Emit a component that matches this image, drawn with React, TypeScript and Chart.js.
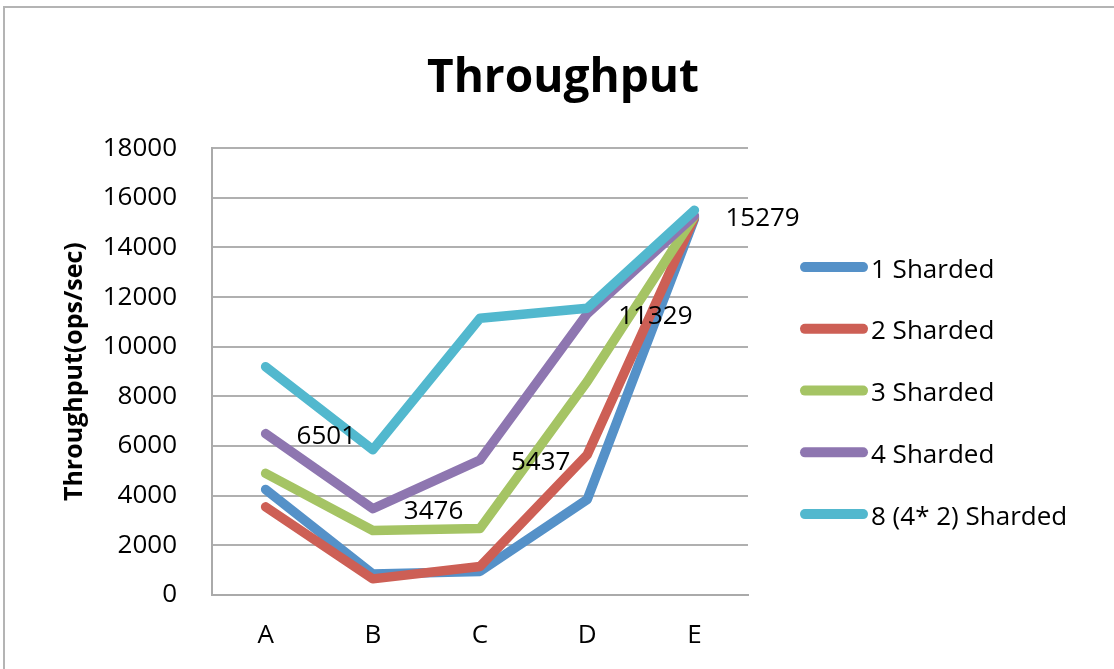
import React, { useEffect, useRef } from "react";
import { Chart, registerables } from "chart.js";

Chart.register(...registerables);

// ---- data ----
const categories = ["A", "B", "C", "D", "E"];
const seriesNames = ["1 Sharded", "2 Sharded", "3 Sharded", "4 Sharded", "8 (4* 2) Sharded"];
const sharded1 = [4250, 850, 950, 3850, 15150];
const sharded2 = [3550, 650, 1150, 5650, 15200];
const sharded3 = [4900, 2600, 2680, 8600, 15250];
const sharded4 = [6501, 3476, 5437, 11329, 15279];
const sharded8 = [9200, 5850, 11150, 11550, 15500];
const seriesValues = [sharded1, sharded2, sharded3, sharded4, sharded8];
const seriesColors = ["#5591C8", "#CD5F55", "#A5C464", "#8E76B0", "#52B8CE"];
const yMin = 0;
const yMax = 18000;
const yStep = 2000;
const labeledSeries = 3; // data labels shown for "4 Sharded"

const FONT = "'Open Sans', 'Noto Sans', sans-serif";

const framePlugin = {
  id: "frame",
  beforeDraw(chart: any) {
    const { ctx, width, height } = chart;
    ctx.save();
    ctx.fillStyle = "#ffffff";
    ctx.fillRect(0, 0, width, height);
    ctx.strokeStyle = "#b4b4b4";
    ctx.lineWidth = 2;
    ctx.beginPath();
    ctx.moveTo(4, height + 2);
    ctx.lineTo(4, 7);
    ctx.lineTo(width + 2, 7);
    ctx.stroke();
    ctx.restore();
  },
};

const dataLabelPlugin = {
  id: "seriesLabels",
  afterDatasetsDraw(chart: any) {
    const { ctx } = chart;
    const meta = chart.getDatasetMeta(labeledSeries);
    const values = chart.data.datasets[labeledSeries].data;
    ctx.save();
    ctx.font = `26px ${FONT}`;
    ctx.fillStyle = "#000000";
    ctx.textAlign = "left";
    ctx.textBaseline = "middle";
    meta.data.forEach((pt: any, i: number) => {
      ctx.fillText(String(values[i]), pt.x + 31, pt.y + 3);
    });
    ctx.restore();
  },
};

const legendPlugin = {
  id: "sideLegend",
  afterDraw(chart: any) {
    const { ctx, chartArea } = chart;
    const x0 = chartArea.right + 57;
    const len = 58;
    const gap = 61.75;
    const midY = (chartArea.top + chartArea.bottom) / 2 + 19;
    ctx.save();
    chart.data.datasets.forEach((ds: any, i: number) => {
      const y = midY + (i - 2) * gap;
      ctx.strokeStyle = ds.borderColor;
      ctx.lineWidth = 10;
      ctx.lineCap = "round";
      ctx.beginPath();
      ctx.moveTo(x0, y);
      ctx.lineTo(x0 + len, y);
      ctx.stroke();
      ctx.font = `26px ${FONT}`;
      ctx.fillStyle = "#000000";
      ctx.textAlign = "left";
      ctx.textBaseline = "middle";
      ctx.fillText(ds.label, x0 + len + 8, y + 3);
    });
    ctx.restore();
  },
};

export default function App() {
  const canvasRef = useRef<HTMLCanvasElement | null>(null);

  useEffect(() => {
    if (!canvasRef.current) return;
    const chart = new Chart(canvasRef.current, {
      type: "line",
      data: {
        labels: categories,
        datasets: seriesValues.map((vals, i) => ({
          label: seriesNames[i],
          data: vals,
          borderColor: seriesColors[i],
          backgroundColor: seriesColors[i],
          borderWidth: 9.5,
          borderCapStyle: "round" as const,
          borderJoinStyle: "round" as const,
          pointRadius: 0,
          pointHoverRadius: 0,
          tension: 0,
          fill: false,
          order: seriesValues.length - i,
          yAxisID: "y",
        })),
      },
      options: {
        responsive: false,
        animation: false,
        layout: { padding: { left: 12, right: 0, top: 0, bottom: 0 } },
        plugins: {
          legend: { display: false },
          tooltip: { enabled: false },
          title: {
            display: true,
            text: "Throughput",
            color: "#000000",
            font: { family: FONT, size: 46, weight: "bold", lineHeight: 1.2 },
            padding: { top: 51, bottom: 42 },
          },
        },
        scales: {
          x: {
            offset: true,
            grid: { display: false, drawTicks: false },
            border: { display: true, color: "#aaaaaa", width: 2 },
            ticks: {
              color: "#000000",
              font: { family: FONT, size: 26 },
              padding: 25,
            },
            afterFit(scale: any) {
              scale.height = 74;
            },
          },
          y: {
            min: yMin,
            max: yMax,
            grid: { color: "#b0b0b0", lineWidth: 2, drawTicks: false },
            border: { display: true, color: "#aaaaaa", width: 2 },
            ticks: {
              stepSize: yStep,
              color: "#000000",
              font: { family: FONT, size: 26 },
              padding: 35,
              callback: (v: any) => String(v),
            },
            title: {
              display: true,
              text: "Throughput(ops/sec)",
              color: "#000000",
              font: { family: FONT, size: 25, weight: "bold", lineHeight: 1.2 },
              padding: { top: 48, bottom: 0 },
            },
            afterFit(scale: any) {
              scale.width = 200;
            },
          },
          legendSpace: {
            type: "linear",
            position: "right",
            display: true,
            grid: { display: false, drawTicks: false },
            border: { display: false },
            ticks: { display: false },
            afterFit(scale: any) {
              scale.width = 366;
            },
          },
        },
      },
      plugins: [framePlugin, dataLabelPlugin, legendPlugin],
    });
    return () => chart.destroy();
  }, []);

  return (
    <div style={{ position: "fixed", left: 0, top: 0, width: 1114, height: 669 }}>
      <canvas ref={canvasRef} width={1114} height={669} />
    </div>
  );
}
